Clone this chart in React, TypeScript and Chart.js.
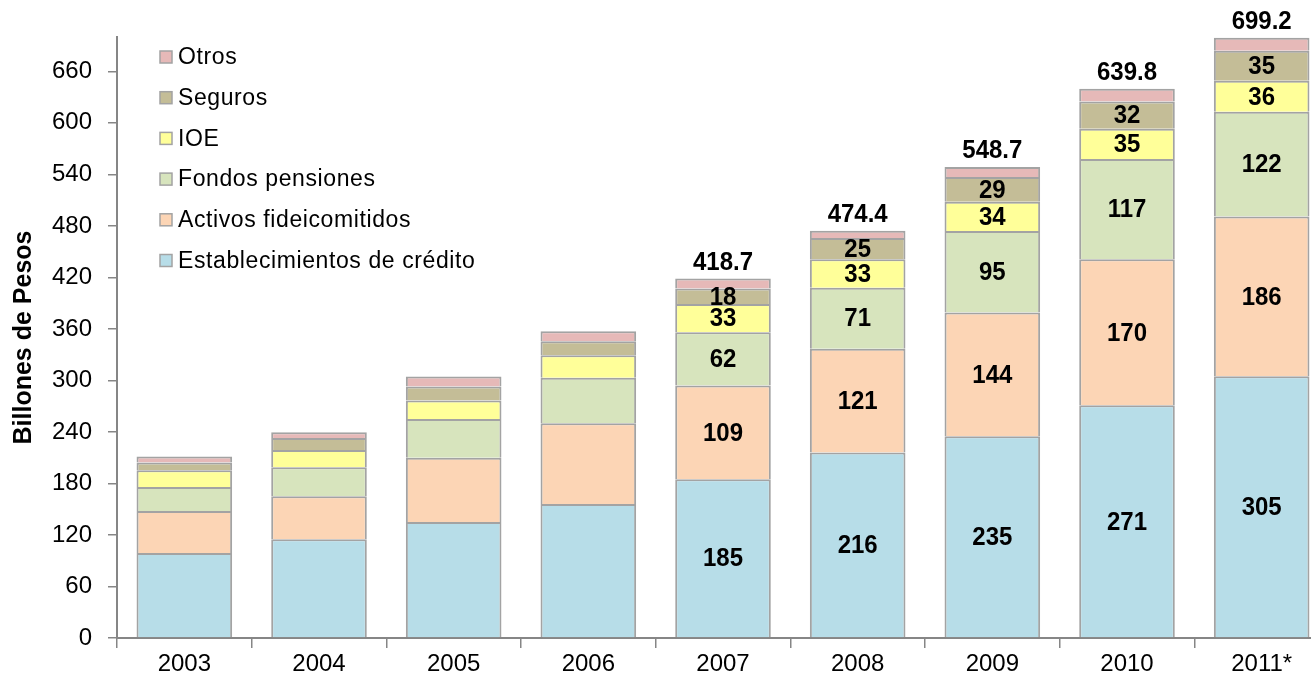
import React, { useEffect, useRef } from "react";
import { Chart, registerables } from "chart.js";

Chart.register(...registerables);

const FONT = '"Liberation Sans", Arial, Helvetica, sans-serif';

// ---- Data (Billones de Pesos) ----
const years = ["2003", "2004", "2005", "2006", "2007", "2008", "2009", "2010", "2011*"];
const establecimientosCredito = [99, 115, 135, 156, 185, 216, 235, 271, 305];
const activosFideicomitidos = [49, 50, 75, 94, 109, 121, 144, 170, 186];
const fondosPensiones = [28, 34, 45, 53, 62, 71, 95, 117, 122];
const ioe = [19.5, 20, 21.7, 26.4, 33, 33, 34, 35, 36];
const seguros = [9, 14, 16.3, 16.3, 18, 25, 29, 32, 35];
const otros = [7, 6.6, 11.6, 11.6, 11.7, 8.4, 11.7, 14.8, 15.2];
const totals: (number | null)[] = [null, null, null, null, 418.7, 474.4, 548.7, 639.8, 699.2];
const labeledYears = [false, false, false, false, true, true, true, true, true];
const yTickValues = [0, 60, 120, 180, 240, 300, 360, 420, 480, 540, 600, 660];

const seriesNames = [
  "Establecimientos de crédito",
  "Activos fideicomitidos",
  "Fondos pensiones",
  "IOE",
  "Seguros",
  "Otros",
];
const seriesColors = ["#B7DDE8", "#FCD5B5", "#D7E4BD", "#FFFF99", "#C4BD97", "#E6B9B8"];
const seriesValues = [establecimientosCredito, activosFideicomitidos, fondosPensiones, ioe, seguros, otros];
const labeledSeries = [true, true, true, true, true, false];

const BORDER = "#A3A3A3";
const AXIS = "#868686";
const STRETCH = 1.1;

function stretchedText(ctx: any, text: string, x: number, y: number) {
  ctx.save();
  ctx.translate(x, y);
  ctx.scale(1, STRETCH);
  ctx.fillText(text, 0, 0);
  ctx.restore();
}

const annotPlugin = {
  id: "annot",
  afterDatasetsDraw(chart: any) {
    const ctx = chart.ctx;
    ctx.save();
    ctx.fillStyle = "#000";
    ctx.font = `bold 24px ${FONT}`;
    ctx.textAlign = "center";
    ctx.textBaseline = "middle";
    chart.data.datasets.forEach((ds: any, di: number) => {
      if (!labeledSeries[di]) return;
      const meta = chart.getDatasetMeta(di);
      meta.data.forEach((el: any, i: number) => {
        if (!labeledYears[i]) return;
        const p = el.getProps(["x", "y", "base"], true);
        const v = ds.data[i];
        stretchedText(ctx, String(Math.round(v)), p.x, (p.y + p.base) / 2 + 1);
      });
    });
    const lastMeta = chart.getDatasetMeta(chart.data.datasets.length - 1);
    lastMeta.data.forEach((el: any, i: number) => {
      const t = totals[i];
      if (t == null) return;
      const p = el.getProps(["x", "y"], true);
      stretchedText(ctx, t.toFixed(1), p.x, p.y - 16);
    });
    ctx.restore();
  },
  afterDraw(chart: any) {
    const ctx = chart.ctx;
    ctx.save();
    ctx.font = `23px ${FONT}`;
    try {
      (ctx as any).letterSpacing = "0.6px";
    } catch (e) {}
    ctx.textAlign = "left";
    ctx.textBaseline = "middle";
    const n = chart.data.datasets.length;
    for (let k = 0; k < n; k++) {
      const di = n - 1 - k;
      const ds = chart.data.datasets[di];
      const cy = 57 + k * 40.7;
      ctx.fillStyle = ds.backgroundColor;
      ctx.fillRect(160, cy - 6, 12, 12);
      ctx.strokeStyle = BORDER;
      ctx.lineWidth = 1.5;
      ctx.strokeRect(160, cy - 6, 12, 12);
      ctx.fillStyle = "#000";
      ctx.fillText(ds.label, 178, cy + 1);
    }
    ctx.restore();
  },
};

export default function App() {
  const canvasRef = useRef<HTMLCanvasElement | null>(null);

  useEffect(() => {
    const canvas = canvasRef.current;
    if (!canvas) return;
    const chart = new Chart(canvas, {
      type: "bar",
      data: {
        labels: years,
        datasets: seriesNames.map((name, i) => ({
          label: name,
          data: seriesValues[i],
          backgroundColor: seriesColors[i],
          borderColor: BORDER,
          borderWidth: 2,
          borderSkipped: "start",
          barPercentage: 0.71,
          categoryPercentage: 1,
        })),
      },
      options: {
        responsive: false,
        animation: false,
        devicePixelRatio: 1,
        layout: { padding: { top: 37, right: 11, left: 0, bottom: 0 } },
        plugins: {
          legend: { display: false },
          tooltip: { enabled: false },
          title: { display: false },
        },
        scales: {
          x: {
            stacked: true,
            offset: true,
            grid: {
              display: true,
              offset: true,
              drawOnChartArea: false,
              tickLength: 10,
              color: AXIS,
              lineWidth: 1.5,
            },
            border: { color: AXIS, width: 2 },
            ticks: {
              font: { family: FONT, size: 24 },
              color: "#000",
              padding: 2,
              maxRotation: 0,
              autoSkip: false,
            },
            afterFit: (s: any) => {
              s.height = 51;
            },
          },
          y: {
            stacked: true,
            min: 0,
            max: 700,
            afterBuildTicks: (s: any) => {
              s.ticks = yTickValues.map((v) => ({ value: v }));
            },
            grid: {
              display: true,
              drawOnChartArea: false,
              tickLength: 9,
              color: AXIS,
              lineWidth: 1.5,
            },
            border: { color: AXIS, width: 2 },
            ticks: {
              font: { family: FONT, size: 24 },
              color: "#000",
              padding: 16,
            },
            title: {
              display: true,
              text: "Billones de Pesos",
              font: { family: FONT, size: 25, weight: "bold" },
              color: "#000",
              padding: { top: 9, bottom: 0 },
            },
            afterFit: (s: any) => {
              s.width = 117;
            },
          },
        },
      },
      plugins: [annotPlugin],
    } as any);
    return () => chart.destroy();
  }, []);

  return (
    <div
      style={{
        position: "fixed",
        left: 0,
        top: 0,
        width: 1311,
        height: 689,
        overflow: "hidden",
        background: "#fff",
      }}
    >
      <canvas
        ref={canvasRef}
        width={1340}
        height={689}
        style={{ position: "absolute", left: 0, top: 0, width: 1340, height: 689 }}
      />
    </div>
  );
}
